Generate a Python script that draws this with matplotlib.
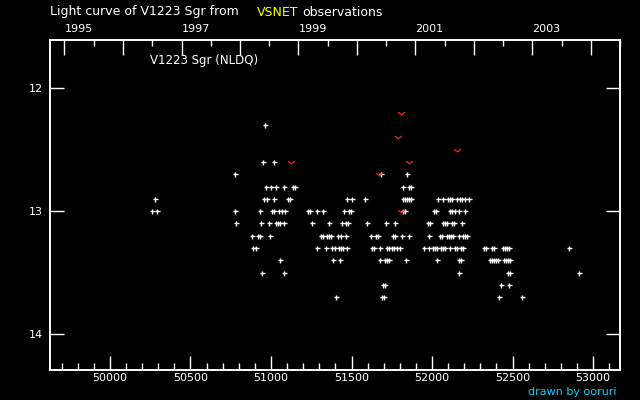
import matplotlib
matplotlib.use('Agg')
import matplotlib.pyplot as plt
from matplotlib.path import Path
import numpy as np

# visual estimates: magnitude -> list of JD-2400000
mag_rows = [12.3, 12.6, 12.7, 12.8, 12.9, 13.0, 13.1, 13.2, 13.3, 13.4, 13.5, 13.6, 13.7]
jd_12_3 = [50963]
jd_12_6 = [50950, 51019]
jd_12_7 = [50777, 51683, 51844]
jd_12_8 = [50969, 51000, 51031, 51081, 51135, 51147, 51819, 51857, 51869]
jd_12_9 = [50280, 50957, 50975, 51019, 51106, 51118, 51472, 51503, 51584, 51819, 51832,
           51844, 51857, 51869, 52037, 52068, 52099, 52111, 52124, 52155, 52173, 52186,
           52204, 52229]
jd_13_0 = [50259, 50290, 50777, 50932, 51006, 51019, 51050, 51068, 51087, 51230, 51242,
           51286, 51323, 51453, 51484, 51497, 51819, 51832, 52012, 52024, 52111, 52124,
           52142, 52167, 52204]
jd_13_1 = [50783, 50938, 50988, 51031, 51043, 51056, 51081, 51255, 51360, 51441, 51466,
           51478, 51596, 51714, 51770, 51975, 51987, 52068, 52080, 52093, 52124, 52136,
           52186]
jd_13_2 = [50882, 50919, 50932, 50994, 51310, 51323, 51348, 51360, 51372, 51416, 51435,
           51466, 51621, 51652, 51664, 51757, 51770, 51813, 51857, 51981, 52049, 52061,
           52093, 52105, 52117, 52130, 52167, 52192, 52204, 52217]
jd_13_3 = [50888, 50907, 51286, 51341, 51379, 51397, 51422, 51435, 51447, 51472, 51627,
           51639, 51677, 51720, 51732, 51751, 51764, 51782, 51801, 51950, 51981, 52006,
           52018, 52030, 52055, 52068, 52080, 52111, 52142, 52155, 52179, 52192, 52322,
           52335, 52372, 52384, 52440, 52453, 52465, 52477, 52850]
jd_13_4 = [51056, 51385, 51428, 51677, 51708, 51720, 51732, 51838, 52030, 52167, 52179,
           52359, 52372, 52384, 52397, 52409, 52446, 52459, 52471, 52484]
jd_13_5 = [50944, 51081, 52167, 52471, 52484, 52912]
jd_13_6 = [51695, 51708, 52428, 52477]
jd_13_7 = [51404, 51689, 51701, 52415, 52558]

# fainter-than observations
lim_jd = [51807, 51788, 51122, 51857, 51670, 51807, 52155]
lim_mag = [12.2, 12.4, 12.6, 12.6, 12.7, 13.0, 12.5]

x_ticks = [50000, 50500, 51000, 51500, 52000, 52500, 53000]
years = list(range(1995, 2005))
year_jd = [49718.5, 50083.5, 50449.5, 50814.5, 51179.5, 51544.5,
           51910.5, 52275.5, 52640.5, 53005.5]

jd_lists = [jd_12_3, jd_12_6, jd_12_7, jd_12_8, jd_12_9, jd_13_0, jd_13_1,
            jd_13_2, jd_13_3, jd_13_4, jd_13_5, jd_13_6, jd_13_7]
jd = np.concatenate([np.array(l, float) for l in jd_lists])
mag = np.concatenate([np.full(len(l), m) for l, m in zip(jd_lists, mag_rows)])

fig = plt.figure(figsize=(6.4, 4.0), dpi=100, facecolor='black')
ax = fig.add_axes([50 / 640, 30 / 400, 570 / 640, 330 / 400])
ax.set_facecolor('black')

ax.plot(jd, mag, '+', color='white', markersize=3.6, mew=1.0, ls='none')
vmark = Path([(-1, 0.4), (0, -0.4), (1, 0.4)], [Path.MOVETO, Path.LINETO, Path.LINETO])
ax.plot(lim_jd, lim_mag, ls='none', marker=vmark, markersize=5, mew=0.9,
        mfc='none', mec='#ff2020')

ax.set_xlim(49628, 53167)
ax.set_ylim(14.294, 11.606)

for s in ax.spines.values():
    s.set_color('white')
    s.set_linewidth(1.2)

ax.set_xticks(x_ticks)
ax.set_xticks(np.arange(49700, 53200, 100), minor=True)
ax.set_yticks([12, 13, 14])
ax.tick_params(axis='x', which='major', direction='in', length=10, width=1,
               color='white', labelcolor='white', labelsize=8, pad=2.5, top=False)
ax.tick_params(axis='x', which='minor', direction='in', length=5, width=1,
               color='white', top=False)
ax.tick_params(axis='y', which='major', direction='in', length=10, width=1,
               color='white', labelcolor='white', labelsize=8, pad=5, right=True)

top = ax.twiny()
top.set_xlim(ax.get_xlim())
top.set_xticks(year_jd)
top.set_xticklabels([str(y) if y % 2 == 1 else '' for y in years], ha='left')
top.set_xticks([j + 182.5 for j in year_jd], minor=True)
top.tick_params(axis='x', which='major', direction='in', length=11, width=1,
                color='white', labelcolor='white', labelsize=8, pad=4.5)
top.tick_params(axis='x', which='minor', direction='in', length=4, width=1, color='white')
for s in top.spines.values():
    s.set_color('white')
    s.set_linewidth(1.2)

ax.text(0.175, 0.939, 'V1223 Sgr (NLDQ)', transform=ax.transAxes, color='white',
        fontsize=8.5, va='center', ha='left')

fig.text(50 / 640, 1 - 12 / 400, 'Light curve of V1223 Sgr from', color='white',
         fontsize=9, va='center', ha='left')
fig.text(257 / 640, 1 - 12 / 400, 'VSNET', color='yellow', fontsize=9,
         va='center', ha='left')
fig.text(302 / 640, 1 - 12 / 400, 'observations', color='white', fontsize=9,
         va='center', ha='left')
fig.text(617 / 640, 1 - 392 / 400, 'drawn by ooruri', color='#00d0ff', fontsize=8,
         va='center', ha='right')

fig.savefig('out.png', dpi=100, facecolor='black')
